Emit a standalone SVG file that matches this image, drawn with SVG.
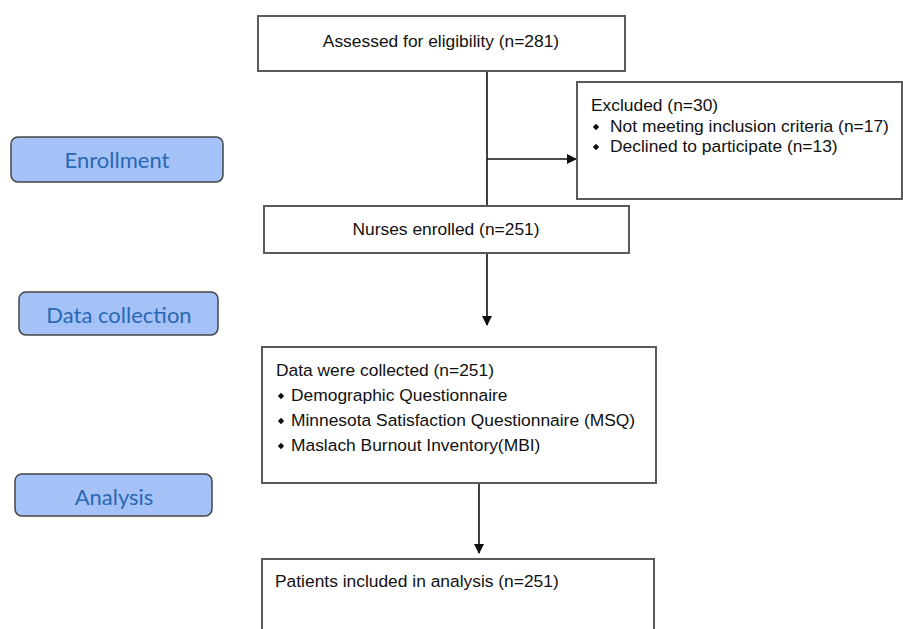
<svg xmlns="http://www.w3.org/2000/svg" width="903" height="629" viewBox="0 0 903 629">
<style>
.box{fill:#fff;stroke:#5a5a5a;stroke-width:2}
.stage{fill:#a4c2f8;stroke:#444;stroke-width:1.5}
.t{font-family:"Liberation Sans",Arial,sans-serif;font-size:17.4px;fill:#111}
.s{font-family:Lato,"Open Sans",sans-serif;font-size:22px;fill:#2a68b2;text-anchor:middle}
.c{stroke:#111;stroke-width:1.6;fill:none}
</style>
<defs>
<marker id="ah" markerWidth="10" markerHeight="10" refX="9" refY="5" orient="auto" markerUnits="userSpaceOnUse">
<path d="M0,0 L10,5 L0,10 Z" fill="#111"/>
</marker>
<path id="dia" d="M0,-3.2 L3.2,0 L0,3.2 L-3.2,0 Z" fill="#111"/>
</defs>
<g id="connectors">
<line class="c" x1="487" y1="71" x2="487" y2="206"/>
<line class="c" x1="487" y1="159" x2="576" y2="159" marker-end="url(#ah)"/>
<line class="c" x1="487" y1="253" x2="487" y2="325" marker-end="url(#ah)"/>
<line class="c" x1="479" y1="484" x2="479" y2="553" marker-end="url(#ah)"/>
</g>
<g id="enrollment-stage"><rect class="stage" x="11" y="137" width="212" height="45" rx="7"/><text class="s" x="117" y="168">Enrollment</text></g>
<g id="datacollection-stage"><rect class="stage" x="19" y="292" width="199" height="43" rx="7"/><text class="s" x="119" y="323">Data collection</text></g>
<g id="analysis-stage"><rect class="stage" x="15" y="474" width="197" height="42" rx="7"/><text class="s" x="114" y="505">Analysis</text></g>
<g id="assessed"><rect class="box" x="258" y="16" width="367" height="55"/><text class="t" x="441" y="47" text-anchor="middle">Assessed for eligibility (n=281)</text></g>
<g id="excluded"><rect class="box" x="577" y="82" width="325" height="117"/>
<text class="t" x="591" y="111">Excluded (n=30)</text>
<use href="#dia" x="596" y="127"/><text class="t" x="610" y="132">Not meeting inclusion criteria (n=17)</text>
<use href="#dia" x="596" y="147"/><text class="t" x="610" y="152">Declined to participate (n=13)</text>
</g>
<g id="enrolled"><rect class="box" x="264" y="206" width="365" height="47"/><text class="t" x="446" y="235" text-anchor="middle">Nurses enrolled (n=251)</text></g>
<g id="collected"><rect class="box" x="262" y="347" width="394" height="136"/>
<text class="t" x="276" y="376">Data were collected (n=251)</text>
<use href="#dia" x="281" y="396"/><text class="t" x="291" y="401">Demographic Questionnaire</text>
<use href="#dia" x="281" y="421"/><text class="t" x="291" y="426">Minnesota Satisfaction Questionnaire (MSQ)</text>
<use href="#dia" x="281" y="446"/><text class="t" x="291" y="451">Maslach Burnout Inventory(MBI)</text>
</g>
<g id="analysis"><rect class="box" x="262" y="559" width="392" height="80"/><text class="t" x="275" y="587">Patients included in analysis (n=251)</text></g>
</svg>
